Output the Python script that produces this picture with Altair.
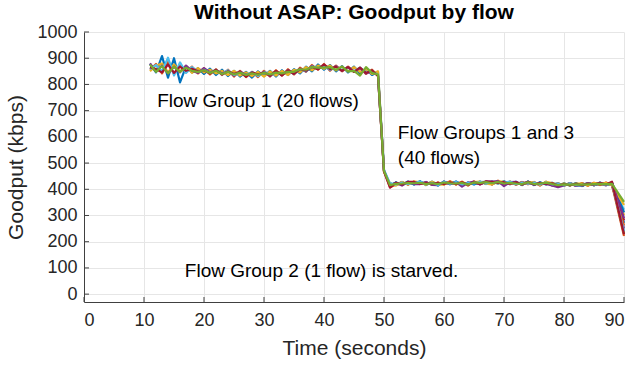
import altair as alt
import pandas as pd

FONT = "Liberation Sans"

# ---- time axes ----
early_times = list(range(11, 51))            # t = 11 .. 50 (group 1 only)
late_times = list(range(51, 89)) + [90]      # t = 51 .. 88, 90

# ---- Flow Group 1 (start at t=11): early values (t=11..50) ----
g1_blue_early = [878, 846, 908, 826, 900, 808, 868, 846, 862, 840, 860, 836, 856, 832, 852, 830, 848, 826, 850, 832,
                 852, 830, 854, 836, 858, 842, 868, 850, 876, 856, 874, 850, 870, 846, 868, 842, 860, 836, 848, 472]
g1_orange_early = [856, 878, 842, 886, 840, 874, 846, 868, 842, 862, 838, 858, 836, 856, 830, 852, 828, 848, 828, 852,
                   830, 854, 834, 858, 838, 864, 848, 874, 856, 878, 852, 872, 850, 868, 848, 864, 840, 856, 832, 468]
g1_yellow_early = [850, 872, 880, 846, 876, 850, 870, 844, 862, 846, 856, 842, 852, 836, 852, 834, 846, 832, 848, 830,
                   850, 834, 852, 836, 856, 846, 866, 854, 872, 860, 872, 854, 868, 850, 866, 848, 858, 840, 850, 466]
g1_purple_early = [880, 850, 872, 842, 868, 846, 872, 852, 844, 862, 846, 854, 842, 852, 834, 850, 836, 844, 834, 848,
                   832, 850, 836, 854, 842, 860, 850, 870, 858, 874, 856, 870, 852, 866, 850, 862, 842, 850, 834, 470]
g1_lightblue_early = [858, 874, 850, 902, 834, 884, 844, 866, 848, 856, 844, 856, 838, 854, 836, 846, 834, 848, 832, 848,
                      836, 846, 838, 852, 840, 858, 850, 868, 862, 872, 856, 868, 854, 864, 850, 864, 846, 852, 836, 474]
g1_red_early = [866, 858, 846, 876, 844, 868, 852, 860, 850, 854, 842, 856, 838, 850, 840, 848, 830, 846, 838, 846,
                834, 852, 834, 854, 840, 858, 852, 866, 858, 876, 858, 868, 852, 866, 848, 864, 844, 854, 832, 468]
g1_green_early = [876, 848, 870, 842, 868, 848, 864, 852, 848, 854, 844, 852, 840, 848, 838, 845, 836, 842, 837, 844,
                  838, 845, 842, 848, 848, 858, 856, 866, 864, 864, 866, 856, 868, 850, 852, 834, 866, 844, 838, 470]

# ---- Flow Group 1: late values (t=51..88, 90) ----
g1_blue_late = [414, 426, 417, 430, 418, 431, 416, 428, 414, 430, 419, 430, 417, 426, 418, 430, 420, 430, 422, 431,
                419, 429, 416, 430, 416, 427, 418, 425, 412, 423, 414, 424, 412, 424, 415, 426, 416, 424, 312]
g1_orange_late = [408, 418, 428, 418, 430, 420, 427, 417, 426, 418, 431, 418, 429, 414, 430, 419, 431, 418, 433, 419,
                  430, 417, 428, 419, 428, 414, 429, 415, 423, 413, 424, 413, 423, 414, 425, 416, 426, 415, 262]
g1_yellow_late = [422, 414, 427, 419, 429, 427, 417, 429, 418, 419, 429, 419, 428, 418, 427, 429, 421, 419, 430, 428,
                  420, 427, 418, 427, 426, 417, 428, 424, 416, 422, 415, 422, 422, 415, 424, 423, 424, 416, 340]
g1_purple_late = [416, 424, 414, 428, 420, 420, 428, 417, 416, 429, 420, 427, 410, 425, 429, 418, 430, 429, 431, 412,
                  427, 428, 420, 429, 417, 425, 420, 415, 408, 415, 423, 413, 416, 424, 416, 423, 415, 425, 290]
g1_lightblue_late = [422, 418, 426, 420, 425, 429, 420, 425, 416, 428, 421, 428, 419, 424, 422, 428, 422, 426, 423, 426,
                     429, 419, 426, 421, 426, 418, 426, 419, 422, 415, 423, 416, 414, 424, 417, 424, 417, 423, 240]
g1_red_late = [406, 425, 418, 428, 428, 421, 424, 421, 425, 420, 427, 420, 427, 417, 427, 420, 429, 428, 424, 427,
               421, 427, 418, 428, 419, 424, 421, 423, 415, 420, 416, 421, 415, 423, 418, 425, 418, 429, 228]
g1_green_late = [416, 421, 422, 424, 423, 425, 420, 423, 420, 426, 423, 422, 424, 418, 426, 424, 427, 423, 428, 422,
                 425, 422, 420, 427, 420, 422, 425, 420, 416, 419, 418, 419, 418, 419, 420, 421, 420, 421, 352]

# ---- Flow Group 3 (start at t=51): t=51..88, 90 ----
g3_blue = [411, 426, 418, 427, 419, 428, 418, 429, 417, 428, 420, 428, 418, 425, 420, 427, 428, 419, 429, 421,
           426, 420, 425, 421, 424, 417, 427, 418, 420, 416, 421, 417, 413, 423, 416, 424, 423, 416, 272]
g3_orange = [422, 417, 427, 418, 428, 420, 426, 418, 425, 421, 428, 419, 425, 417, 429, 420, 428, 421, 430, 419,
             427, 418, 426, 420, 425, 418, 425, 416, 421, 415, 423, 415, 422, 415, 423, 417, 422, 417, 222]
g3_yellow = [409, 422, 420, 426, 421, 429, 419, 427, 418, 426, 423, 427, 420, 424, 422, 425, 423, 426, 422, 426,
             422, 426, 419, 429, 418, 423, 420, 423, 416, 420, 416, 421, 417, 422, 416, 424, 417, 423, 300]
g3_purple = [420, 418, 423, 423, 427, 421, 425, 419, 424, 421, 427, 420, 423, 419, 427, 420, 429, 424, 429, 417,
             427, 420, 427, 422, 425, 420, 425, 415, 418, 417, 421, 414, 422, 418, 421, 418, 422, 419, 250]
g3_green = [414, 424, 418, 426, 422, 427, 419, 427, 418, 427, 421, 426, 420, 424, 422, 426, 423, 426, 424, 427,
            421, 426, 418, 428, 418, 424, 420, 423, 415, 421, 416, 422, 415, 423, 417, 423, 417, 424, 232]
g3_lightblue = [424, 417, 425, 419, 426, 422, 427, 418, 423, 420, 428, 421, 425, 418, 427, 423, 427, 421, 430, 421,
                428, 419, 425, 420, 427, 417, 425, 420, 423, 414, 424, 415, 421, 419, 422, 417, 424, 416, 322]
g3_red = [412, 425, 417, 427, 421, 426, 419, 426, 418, 425, 422, 427, 418, 423, 422, 425, 424, 427, 425, 426,
          422, 427, 417, 427, 419, 425, 421, 422, 413, 421, 416, 420, 414, 423, 417, 424, 419, 426, 282]

# MATLAB default colour order
C_BLUE, C_ORANGE, C_YELLOW, C_PURPLE = "#0072BD", "#D95319", "#EDB120", "#7E2F8E"
C_GREEN, C_LIGHTBLUE, C_RED = "#77AC30", "#4DBEEE", "#A2142F"

# ---- axis ticks ----
x_ticks = [0, 10, 20, 30, 40, 50, 60, 70, 80, 90]
y_ticks = [0, 100, 200, 300, 400, 500, 600, 700, 800, 900, 1000]

# ---- annotations ----
ann_text = ["Flow Group 1 (20 flows)", "Flow Groups 1 and 3", "(40 flows)", "Flow Group 2 (1 flow) is starved."]
ann_t = [12.2, 52.3, 52.3, 16.8]
ann_v = [736, 614, 519, 88]

# ---- build table (draw order = list order; green group-1 flow last/on top) ----
flows = [
    ("01", C_BLUE, late_times, g3_blue),
    ("02", C_ORANGE, late_times, g3_orange),
    ("03", C_YELLOW, late_times, g3_yellow),
    ("04", C_PURPLE, late_times, g3_purple),
    ("05", C_GREEN, late_times, g3_green),
    ("06", C_LIGHTBLUE, late_times, g3_lightblue),
    ("07", C_RED, late_times, g3_red),
    ("08", C_BLUE, early_times + late_times, g1_blue_early + g1_blue_late),
    ("09", C_ORANGE, early_times + late_times, g1_orange_early + g1_orange_late),
    ("10", C_YELLOW, early_times + late_times, g1_yellow_early + g1_yellow_late),
    ("11", C_PURPLE, early_times + late_times, g1_purple_early + g1_purple_late),
    ("12", C_LIGHTBLUE, early_times + late_times, g1_lightblue_early + g1_lightblue_late),
    ("13", C_RED, early_times + late_times, g1_red_early + g1_red_late),
    ("14", C_GREEN, early_times + late_times, g1_green_early + g1_green_late),
]
rows = []
for name, col, ts, vs in flows:
    for t, v in zip(ts, vs):
        rows.append({"flow": name, "t": t, "v": v})
df = pd.DataFrame(rows)
flow_names = [f[0] for f in flows]
flow_colors = [f[1] for f in flows]

TXT = "#262626"
xscale = alt.Scale(domain=[0, 90], nice=False, zero=False)
yscale = alt.Scale(domain=[-30, 1000], nice=False, zero=False)
xaxis = alt.Axis(values=x_ticks, grid=True, ticks=False, labelPadding=9, titlePadding=8,
                 title="Time (seconds)", format="d")
yaxis = alt.Axis(values=y_ticks, grid=True, ticks=False, labelPadding=7, titlePadding=10,
                 title="Goodput (kbps)", format="d")
X = alt.X("t:Q", scale=xscale, axis=xaxis)
Y = alt.Y("v:Q", scale=yscale, axis=yaxis)

lines = alt.Chart(df).mark_line(strokeWidth=2.2, strokeJoin="round").encode(
    x=X, y=Y,
    color=alt.Color("flow:N", scale=alt.Scale(domain=flow_names, range=flow_colors), legend=None),
    order=alt.Order("t:Q"),
)

xt = alt.Chart(pd.DataFrame({"t": x_ticks})).mark_rule(color="#404040", strokeWidth=1).encode(
    x=X, y=alt.value(270), y2=alt.value(265))
yt = alt.Chart(pd.DataFrame({"v": y_ticks})).mark_rule(color="#404040", strokeWidth=1).encode(
    y=Y, x=alt.value(0), x2=alt.value(5))

ann = alt.Chart(pd.DataFrame({"label": ann_text, "t": ann_t, "v": ann_v})).mark_text(
    align="left", baseline="middle", font=FONT, fontSize=19, color="black").encode(
    x=X, y=Y, text="label:N")

chart = alt.layer(lines, xt, yt, ann).properties(
    width=540, height=270,
    background="white",
    padding={"left": 84, "top": 32, "right": 12, "bottom": 64},
    autosize=alt.AutoSizeParams(type="none"),
    title=alt.TitleParams("Without ASAP: Goodput by flow", font=FONT, fontSize=21, fontWeight="bold",
                          color="black", anchor="middle", offset=0),
).configure_view(strokeWidth=0).configure_axis(
    labelFont=FONT, labelFontSize=18, labelColor=TXT,
    titleFont=FONT, titleFontSize=21, titleColor=TXT, titleFontWeight="normal",
    gridColor="#e6e6e6", gridWidth=1, domainColor="#404040", domainWidth=1,
)

chart.save("out.html", embed_options={"renderer": "svg", "actions": False})
